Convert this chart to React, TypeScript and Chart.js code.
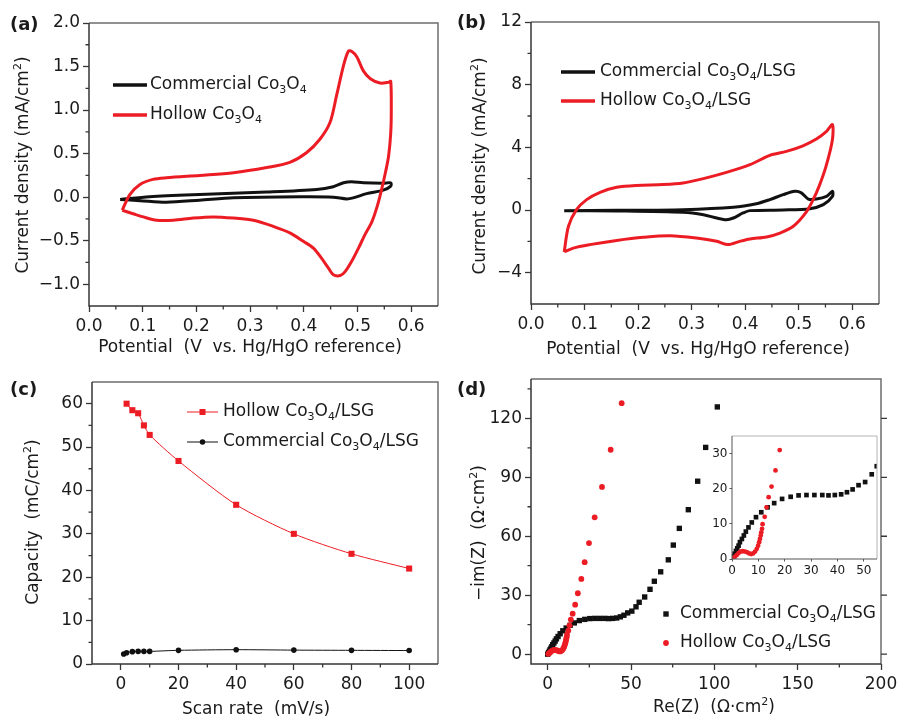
import React, { useEffect, useRef } from 'react';
import { Chart, registerables } from 'chart.js';
Chart.register(...registerables);

const FONT = "'DejaVu Sans', 'Liberation Sans', Arial, sans-serif";
const RED = '#ec1c24';
const BLACK = '#111111';
const AXIS = '#363636';
const AXIS_FAR = '#6e6e6e';
const TEXT = '#1a1a1a';

// ---------- Panel (a): CV, bare oxides ----------
const aHollowX = [0.062, 0.076, 0.095, 0.119, 0.144, 0.206, 0.269, 0.331, 0.374, 0.405, 0.430, 0.449, 0.461, 0.474, 0.483, 0.489, 0.499, 0.511, 0.524, 0.542, 0.558, 0.562, 0.563, 0.562, 0.558, 0.552, 0.545, 0.537, 0.527, 0.514, 0.502, 0.489, 0.477, 0.468, 0.455, 0.446, 0.433, 0.418, 0.400, 0.374, 0.343, 0.306, 0.269, 0.231, 0.194, 0.157, 0.126, 0.101, 0.082];
const aHollowY = [-0.15, 0.03, 0.146, 0.204, 0.223, 0.25, 0.28, 0.34, 0.40, 0.51, 0.665, 0.86, 1.165, 1.51, 1.675, 1.675, 1.61, 1.45, 1.36, 1.31, 1.32, 1.33, 1.0, 0.74, 0.473, 0.28, 0.09, -0.10, -0.28, -0.43, -0.585, -0.74, -0.855, -0.90, -0.89, -0.815, -0.70, -0.585, -0.51, -0.41, -0.335, -0.265, -0.24, -0.227, -0.24, -0.265, -0.265, -0.227, -0.19];
const aCommX = [0.058, 0.113, 0.206, 0.331, 0.424, 0.455, 0.474, 0.489, 0.511, 0.548, 0.562, 0.562, 0.548, 0.517, 0.492, 0.480, 0.455, 0.393, 0.269, 0.206, 0.144, 0.095];
const aCommY = [-0.027, 0.004, 0.03, 0.058, 0.088, 0.12, 0.165, 0.177, 0.165, 0.16, 0.165, 0.127, 0.08, 0.04, -0.008, -0.02, 0.0, 0.004, -0.008, -0.035, -0.058, -0.04];
const aXTicks = [0, 0.1, 0.2, 0.3, 0.4, 0.5, 0.6];
const aYTicks = [-1.0, -0.5, 0, 0.5, 1.0, 1.5, 2.0];
const aXMinor = [0.05, 0.15, 0.25, 0.35, 0.45, 0.55];
const aYMinor = [-0.75, -0.25, 0.25, 0.75, 1.25, 1.75];

// ---------- Panel (b): CV, with LSG ----------
const bHollowX = [0.062, 0.070, 0.085, 0.104, 0.129, 0.160, 0.197, 0.247, 0.284, 0.322, 0.365, 0.409, 0.446, 0.477, 0.508, 0.533, 0.552, 0.563, 0.563, 0.551, 0.538, 0.527, 0.513, 0.490, 0.465, 0.440, 0.409, 0.390, 0.368, 0.347, 0.309, 0.260, 0.210, 0.160, 0.110, 0.079];
const bHollowY = [-2.68, -1.04, 0.02, 0.66, 1.13, 1.45, 1.57, 1.62, 1.72, 2.0, 2.40, 2.89, 3.49, 3.74, 4.1, 4.53, 5.02, 5.45, 4.49, 2.79, 1.51, 0.66, -0.19, -1.04, -1.47, -1.72, -1.85, -2.0, -2.21, -2.0, -1.79, -1.64, -1.74, -1.94, -2.21, -2.43];
const bCommX = [0.062, 0.160, 0.284, 0.378, 0.421, 0.446, 0.471, 0.493, 0.505, 0.518, 0.533, 0.552, 0.563, 0.563, 0.546, 0.521, 0.471, 0.409, 0.396, 0.378, 0.365, 0.347, 0.322, 0.284, 0.160];
const bCommY = [-0.04, -0.02, 0.02, 0.17, 0.40, 0.66, 0.98, 1.19, 1.09, 0.70, 0.70, 0.87, 1.19, 0.87, 0.34, 0.085, 0.0, -0.04, -0.19, -0.51, -0.62, -0.51, -0.30, -0.15, -0.06];
const bXTicks = [0, 0.1, 0.2, 0.3, 0.4, 0.5, 0.6];
const bYTicks = [-4, 0, 4, 8, 12];
const bXMinor = [0.05, 0.15, 0.25, 0.35, 0.45, 0.55];
const bYMinor = [-2, 2, 6, 10];

// ---------- Panel (c): capacity vs scan rate ----------
const cScanHollow = [2, 4, 6, 8, 10, 20, 40, 60, 80, 100];
const cCapHollow = [60.0, 58.5, 57.8, 55.0, 52.8, 46.8, 36.7, 30.0, 25.4, 22.0];
const cScanComm = [1, 2, 4, 6, 8, 10, 20, 40, 60, 80, 100];
const cCapComm = [2.3, 2.6, 2.85, 2.9, 2.9, 2.9, 3.15, 3.3, 3.2, 3.15, 3.1];
const cXTicks = [0, 20, 40, 60, 80, 100];
const cYTicks = [0, 10, 20, 30, 40, 50, 60];
const cXMinor = [10, 30, 50, 70, 90];
const cYMinor = [5, 15, 25, 35, 45, 55];

// ---------- Panel (d): Nyquist ----------
const dHollowRe = [0.4, 1.0, 1.75, 2.5, 3.25, 4.1, 5.0, 5.75, 6.5, 7.25, 8.0, 8.75, 9.4, 9.9, 10.3, 10.6, 10.9, 11.1, 11.4, 11.6, 12.4, 13.1, 13.9, 15.0, 16.5, 18.1, 20.2, 22.2, 24.8, 28.2, 32.6, 37.8, 44.4];
const dHollowIm = [0.2, 0.6, 1.1, 1.7, 2.1, 2.2, 2.1, 1.9, 1.6, 1.4, 1.6, 2.1, 2.9, 3.8, 4.8, 5.7, 6.7, 7.6, 8.6, 9.9, 12.0, 14.7, 17.6, 20.6, 25.2, 31.0, 38.3, 46.8, 56.5, 69.6, 85.1, 104, 127.7];
const dCommRe = [0, 0.5, 1, 1.5, 2, 2.5, 3, 3.75, 4.5, 5.25, 6.25, 7.5, 9.1, 11.1, 13.5, 16, 19, 22.25, 25.25, 28.25, 31.25, 34.25, 36.6, 39, 41.4, 43.6, 45.75, 48, 50.5, 53, 54.9, 58.2, 61.4, 64, 67.8, 72.4, 75.4, 79, 84.4, 90, 94.8, 101.8];
const dCommIm = [0, 0.76, 1.5, 2.3, 3.05, 3.8, 4.8, 5.7, 6.7, 7.8, 9.0, 10.4, 11.9, 13.3, 14.7, 15.9, 17.1, 17.7, 18.1, 18.2, 18.2, 18.2, 18.1, 18.2, 18.4, 19.0, 19.8, 21.0, 21.9, 24.1, 26.4, 29.1, 33.0, 37.1, 41.9, 48, 55.5, 64, 73.5, 88, 105.2, 125.8];
const dXTicks = [0, 50, 100, 150, 200];
const dYTicks = [0, 30, 60, 90, 120];
const dXMinor = [25, 75, 125, 175];
const dYMinor = [15, 45, 75, 105, 135];
const insetXTicks = [0, 10, 20, 30, 40, 50];
const insetYTicks = [0, 10, 20, 30];

// ---------- Labels ----------
const labelCommA = 'Commercial Co_3O_4';
const labelHollowA = 'Hollow Co_3O_4';
const labelCommLSG = 'Commercial Co_3O_4/LSG';
const labelHollowLSG = 'Hollow Co_3O_4/LSG';
const titlePotential = 'Potential  (V  vs. Hg/HgO reference)';
const titleCurrent = 'Current density (mA/cm^2)';
const titleScan = 'Scan rate  (mV/s)';
const titleCapacity = 'Capacity  (mC/cm^2)';
const titleRe = 'Re(Z)  (Ω·cm^2)';
const titleIm = '−im(Z)  (Ω·cm^2)';

type Pt = { x: number; y: number };
function pts(xs: number[], ys: number[]): Pt[] {
  return xs.map((x, i) => ({ x, y: ys[i] }));
}
function loop(xs: number[], ys: number[]): Pt[] {
  const p = pts(xs, ys);
  p.push({ ...p[0] });
  return p;
}

// ---------- rich text (sub _x / super ^x) ----------
function parseRich(s: string) {
  const segs: { t: string; k: number }[] = [];
  let buf = '';
  for (let i = 0; i < s.length; i++) {
    const c = s[i];
    if ((c === '_' || c === '^') && i + 1 < s.length) {
      if (buf) { segs.push({ t: buf, k: 0 }); buf = ''; }
      segs.push({ t: s[i + 1], k: c === '_' ? -1 : 1 });
      i++;
    } else buf += c;
  }
  if (buf) segs.push({ t: buf, k: 0 });
  return segs;
}
function drawRich(ctx: CanvasRenderingContext2D, s: string, x: number, y: number, size: number, align: 'left' | 'center', bold = false) {
  const segs = parseRich(s);
  const mainF = `${bold ? 'bold ' : ''}${size}px ${FONT}`;
  const smallF = `${bold ? 'bold ' : ''}${Math.round(size * 0.66)}px ${FONT}`;
  const widths = segs.map((sg) => { ctx.font = sg.k ? smallF : mainF; return ctx.measureText(sg.t).width; });
  const total = widths.reduce((a, b) => a + b, 0);
  let cx = align === 'center' ? x - total / 2 : x;
  ctx.textAlign = 'left';
  ctx.textBaseline = 'middle';
  segs.forEach((sg, i) => {
    ctx.font = sg.k ? smallF : mainF;
    const dy = sg.k === -1 ? size * 0.33 : sg.k === 1 ? -size * 0.36 : 0;
    ctx.fillText(sg.t, cx, y + dy);
    cx += widths[i];
  });
}

type LegendItem = { label: string; y: number; color: string; kind: 'line' | 'lineMarker' | 'marker'; marker?: 'rect' | 'circle'; lw: number; ms: number };
type Panel = {
  canvas: { left: number; top: number; w: number; h: number };
  area: { l: number; t: number; r: number; b: number };
  xMin: number; xMax: number; yMin: number; yMax: number;
  xTicks: number[]; yTicks: number[];
  xMinor: number[]; yMinor: number[]; yRight: number[];
  xFmt: (v: number) => string; yFmt: (v: number) => string;
  tickSize: number; tickLen: number; minorLen: number; tickWidth: number;
  xPad: number; yPad: number;
  frameColor: string; frameFar: string; frameWidth: number; tickColor: string;
  fill?: string;
  datasets: any[];
  xTitle?: { text: string; x: number; y: number };
  yTitle?: { text: string; x: number; y: number };
  titleSize: number;
  panelLabel?: { text: string; x: number; y: number };
  legend?: { x0: number; x1: number; textX: number; items: LegendItem[] };
};

const fmt1 = (v: number) => v.toFixed(1).replace('-', '−');
const fmt0 = (v: number) => String(Math.round(v)).replace('-', '−');

function drawMarker(ctx: CanvasRenderingContext2D, kind: 'rect' | 'circle', x: number, y: number, s: number, color: string) {
  ctx.fillStyle = color;
  if (kind === 'rect') ctx.fillRect(x - s / 2, y - s / 2, s, s);
  else { ctx.beginPath(); ctx.arc(x, y, s / 2, 0, Math.PI * 2); ctx.fill(); }
}

function makeDeco(p: Panel) {
  const ox = p.canvas.left, oy = p.canvas.top;
  return {
    id: 'deco',
    beforeDraw(chart: any) {
      if (!p.fill) return;
      const ca = chart.chartArea, ctx = chart.ctx;
      ctx.save();
      ctx.fillStyle = p.fill;
      ctx.fillRect(ca.left, ca.top, ca.right - ca.left, ca.bottom - ca.top);
      ctx.restore();
    },
    afterDraw(chart: any) {
      const ctx: CanvasRenderingContext2D = chart.ctx;
      const ca = chart.chartArea;
      const xs = chart.scales.x, ys = chart.scales.y;
      ctx.save();
      ctx.lineWidth = p.frameWidth;
      // far sides (top, right)
      ctx.strokeStyle = p.frameFar;
      ctx.beginPath();
      ctx.moveTo(ca.left, ca.top); ctx.lineTo(ca.right, ca.top); ctx.lineTo(ca.right, ca.bottom);
      ctx.stroke();
      // axis sides (left, bottom)
      ctx.strokeStyle = p.frameColor;
      ctx.beginPath();
      ctx.moveTo(ca.left, ca.top); ctx.lineTo(ca.left, ca.bottom); ctx.lineTo(ca.right, ca.bottom);
      ctx.stroke();
      ctx.strokeStyle = p.tickColor;
      ctx.lineWidth = p.tickWidth;
      ctx.beginPath();
      p.xMinor.forEach((v) => { const px = xs.getPixelForValue(v); ctx.moveTo(px, ca.bottom); ctx.lineTo(px, ca.bottom + p.minorLen); });
      p.yMinor.forEach((v) => { const py = ys.getPixelForValue(v); ctx.moveTo(ca.left, py); ctx.lineTo(ca.left - p.minorLen, py); });
      p.yRight.forEach((v) => { const py = ys.getPixelForValue(v); ctx.moveTo(ca.right, py); ctx.lineTo(ca.right + p.tickLen, py); });
      ctx.stroke();
      ctx.fillStyle = TEXT;
      if (p.xTitle) drawRich(ctx, p.xTitle.text, p.xTitle.x - ox, p.xTitle.y - oy, p.titleSize, 'center');
      if (p.yTitle) {
        ctx.save();
        ctx.translate(p.yTitle.x - ox, p.yTitle.y - oy);
        ctx.rotate(-Math.PI / 2);
        drawRich(ctx, p.yTitle.text, 0, 0, p.titleSize, 'center');
        ctx.restore();
      }
      if (p.panelLabel) {
        ctx.fillStyle = TEXT;
        drawRich(ctx, p.panelLabel.text, p.panelLabel.x - ox, p.panelLabel.y - oy, 18, 'left', true);
      }
      if (p.legend) {
        const L = p.legend;
        L.items.forEach((it) => {
          const y = it.y - oy;
          const x0 = L.x0 - ox, x1 = L.x1 - ox;
          if (it.kind === 'line' || it.kind === 'lineMarker') {
            ctx.strokeStyle = it.color;
            ctx.lineWidth = it.lw;
            ctx.beginPath(); ctx.moveTo(x0, y); ctx.lineTo(x1, y); ctx.stroke();
          }
          if ((it.kind === 'lineMarker' || it.kind === 'marker') && it.marker) {
            drawMarker(ctx, it.marker, (x0 + x1) / 2, y, it.ms, it.color);
          }
          ctx.fillStyle = TEXT;
          drawRich(ctx, it.label, L.textX - ox, y, p.titleSize, 'left');
        });
      }
      ctx.restore();
    },
  };
}

function buildConfig(p: Panel): any {
  const c = p.canvas, a = p.area;
  const font = { family: FONT, size: p.tickSize };
  const grid = { display: true, drawOnChartArea: false, drawTicks: true, tickLength: p.tickLen, tickColor: p.tickColor, tickWidth: p.tickWidth };
  return {
    type: 'scatter',
    data: { datasets: p.datasets },
    options: {
      animation: false,
      responsive: false,
      devicePixelRatio: 1,
      events: [],
      layout: { padding: { left: 0, top: a.t - c.top, right: c.left + c.w - a.r, bottom: 0 } },
      plugins: { legend: { display: false }, tooltip: { enabled: false } },
      scales: {
        x: {
          type: 'linear', position: 'bottom', min: p.xMin, max: p.xMax,
          afterBuildTicks: (s: any) => { s.ticks = p.xTicks.map((v) => ({ value: v })); },
          afterFit: (s: any) => { s.height = c.top + c.h - a.b; s.paddingLeft = 0; s.paddingRight = 0; },
          grid, border: { display: false },
          ticks: { autoSkip: false, maxRotation: 0, minRotation: 0, padding: p.xPad, color: TEXT, font, callback: (v: any) => p.xFmt(Number(v)) },
        },
        y: {
          type: 'linear', position: 'left', min: p.yMin, max: p.yMax,
          afterBuildTicks: (s: any) => { s.ticks = p.yTicks.map((v) => ({ value: v })); },
          afterFit: (s: any) => { s.width = a.l - c.left; s.paddingTop = 0; s.paddingBottom = 0; },
          grid, border: { display: false },
          ticks: { autoSkip: false, padding: p.yPad, color: TEXT, font, callback: (v: any) => p.yFmt(Number(v)) },
        },
      },
    },
    plugins: [makeDeco(p)],
  };
}

const cvLine = (data: Pt[], color: string) => ({ data, showLine: true, borderColor: color, backgroundColor: color, borderWidth: 3, pointRadius: 0, tension: 0.3, fill: false });

const common = {
  tickSize: 17, tickLen: 6, minorLen: 3.5, tickWidth: 1.3, xPad: 4, yPad: 3,
  frameColor: AXIS, frameFar: AXIS_FAR, frameWidth: 1.5, tickColor: AXIS, titleSize: 17, yRight: [] as number[],
};

const PANELS: Panel[] = [
  {
    ...common,
    canvas: { left: 0, top: 0, w: 450, h: 360 },
    area: { l: 89, t: 23, r: 438, b: 306 },
    xMin: 0, xMax: 0.65, yMin: -1.25, yMax: 2.0,
    xTicks: aXTicks, yTicks: aYTicks, xMinor: aXMinor, yMinor: aYMinor,
    xFmt: fmt1, yFmt: fmt1,
    datasets: [cvLine(loop(aHollowX, aHollowY), RED), cvLine(loop(aCommX, aCommY), BLACK)],
    xTitle: { text: titlePotential, x: 250, y: 348 },
    yTitle: { text: titleCurrent, x: 24, y: 165 },
    panelLabel: { text: '(a)', x: 10, y: 25 },
    legend: { x0: 113, x1: 147, textX: 150, items: [
      { label: labelCommA, y: 85, color: BLACK, kind: 'line', lw: 3.5, ms: 0 },
      { label: labelHollowA, y: 115, color: RED, kind: 'line', lw: 3.5, ms: 0 },
    ] },
  },
  {
    ...common,
    canvas: { left: 450, top: 0, w: 449, h: 360 },
    area: { l: 531, t: 22, r: 879, b: 304 },
    xMin: 0, xMax: 0.65, yMin: -6, yMax: 12,
    xTicks: bXTicks, yTicks: bYTicks, xMinor: bXMinor, yMinor: bYMinor,
    xFmt: fmt1, yFmt: fmt0,
    datasets: [cvLine(loop(bHollowX, bHollowY), RED), cvLine(loop(bCommX, bCommY), BLACK)],
    xTitle: { text: titlePotential, x: 698, y: 350 },
    yTitle: { text: titleCurrent, x: 481, y: 166 },
    panelLabel: { text: '(b)', x: 457, y: 23 },
    legend: { x0: 561, x1: 595, textX: 600, items: [
      { label: labelCommLSG, y: 72, color: BLACK, kind: 'line', lw: 3.5, ms: 0 },
      { label: labelHollowLSG, y: 101, color: RED, kind: 'line', lw: 3.5, ms: 0 },
    ] },
  },
  {
    ...common,
    canvas: { left: 0, top: 360, w: 450, h: 359 },
    area: { l: 92, t: 382, r: 438, b: 664 },
    xMin: -10, xMax: 110, yMin: 0, yMax: 65,
    xTicks: cXTicks, yTicks: cYTicks, xMinor: cXMinor, yMinor: cYMinor,
    xFmt: fmt0, yFmt: fmt0,
    datasets: [
      { data: pts(cScanHollow, cCapHollow), showLine: true, borderColor: RED, backgroundColor: RED, borderWidth: 1, tension: 0.25, pointStyle: 'rect', pointRadius: 4.3, pointBorderWidth: 0, pointBackgroundColor: RED },
      { data: pts(cScanComm, cCapComm), showLine: true, borderColor: BLACK, backgroundColor: BLACK, borderWidth: 1, tension: 0.25, pointStyle: 'circle', pointRadius: 2.8, pointBorderWidth: 0, pointBackgroundColor: BLACK },
    ],
    xTitle: { text: titleScan, x: 256, y: 710 },
    yTitle: { text: titleCapacity, x: 34, y: 522 },
    panelLabel: { text: '(c)', x: 10, y: 390 },
    legend: { x0: 187, x1: 218, textX: 223, items: [
      { label: labelHollowLSG, y: 412, color: RED, kind: 'lineMarker', marker: 'rect', lw: 1, ms: 6 },
      { label: labelCommLSG, y: 442, color: BLACK, kind: 'lineMarker', marker: 'circle', lw: 1, ms: 5.5 },
    ] },
  },
  {
    ...common,
    canvas: { left: 450, top: 360, w: 449, h: 359 },
    area: { l: 531, t: 379, r: 881, b: 664 },
    xMin: -10, xMax: 200, yMin: -5, yMax: 140,
    xTicks: dXTicks, yTicks: dYTicks, xMinor: dXMinor, yMinor: dYMinor, yRight: dYTicks,
    xFmt: fmt0, yFmt: fmt0,
    datasets: [
      { data: pts(dHollowRe, dHollowIm), showLine: false, pointStyle: 'circle', pointRadius: 2.9, pointBorderWidth: 0, pointBackgroundColor: RED, backgroundColor: RED, borderColor: RED },
      { data: pts(dCommRe, dCommIm), showLine: false, pointStyle: 'rect', pointRadius: 3.8, pointBorderWidth: 0, pointBackgroundColor: BLACK, backgroundColor: BLACK, borderColor: BLACK },
    ],
    xTitle: { text: titleRe, x: 714, y: 708 },
    yTitle: { text: titleIm, x: 480, y: 533 },
    panelLabel: { text: '(d)', x: 457, y: 390 },
    legend: { x0: 658, x1: 674, textX: 680, items: [
      { label: labelCommLSG, y: 614, color: BLACK, kind: 'marker', marker: 'rect', lw: 0, ms: 5.4 },
      { label: labelHollowLSG, y: 643, color: RED, kind: 'marker', marker: 'circle', lw: 0, ms: 5.8 },
    ] },
  },
  {
    ...common,
    tickSize: 12, tickLen: 2.5, minorLen: 0, tickWidth: 1, xPad: 2, yPad: 2,
    frameColor: '#555555', frameFar: '#b4b4b4', frameWidth: 1, tickColor: '#555555',
    fill: '#ffffff',
    canvas: { left: 700, top: 428, w: 181, h: 150 },
    area: { l: 732, t: 436, r: 880, b: 559 },
    xMin: 0, xMax: 55, yMin: 0, yMax: 35,
    xTicks: insetXTicks, yTicks: insetYTicks, xMinor: [], yMinor: [],
    xFmt: fmt0, yFmt: fmt0,
    datasets: [
      { data: pts(dHollowRe, dHollowIm), showLine: false, pointStyle: 'circle', pointRadius: 2.4, pointBorderWidth: 0, pointBackgroundColor: RED, backgroundColor: RED, borderColor: RED },
      { data: pts(dCommRe, dCommIm), showLine: false, pointStyle: 'rect', pointRadius: 3.3, pointBorderWidth: 0, pointBackgroundColor: BLACK, backgroundColor: BLACK, borderColor: BLACK },
    ],
  },
];

export default function App() {
  const canvases = useRef<(HTMLCanvasElement | null)[]>([]);
  useEffect(() => {
    document.body.style.margin = '0';
    const charts = PANELS.map((p, i) => new Chart(canvases.current[i] as HTMLCanvasElement, buildConfig(p)));
    return () => charts.forEach((c) => c.destroy());
  }, []);
  return (
    <div style={{ position: 'relative', width: 899, height: 719, background: '#ffffff', overflow: 'hidden' }}>
      {PANELS.map((p, i) => (
        <canvas
          key={i}
          ref={(el) => { canvases.current[i] = el; }}
          width={p.canvas.w}
          height={p.canvas.h}
          style={{ position: 'absolute', left: p.canvas.left, top: p.canvas.top, width: p.canvas.w, height: p.canvas.h }}
        />
      ))}
    </div>
  );
}
